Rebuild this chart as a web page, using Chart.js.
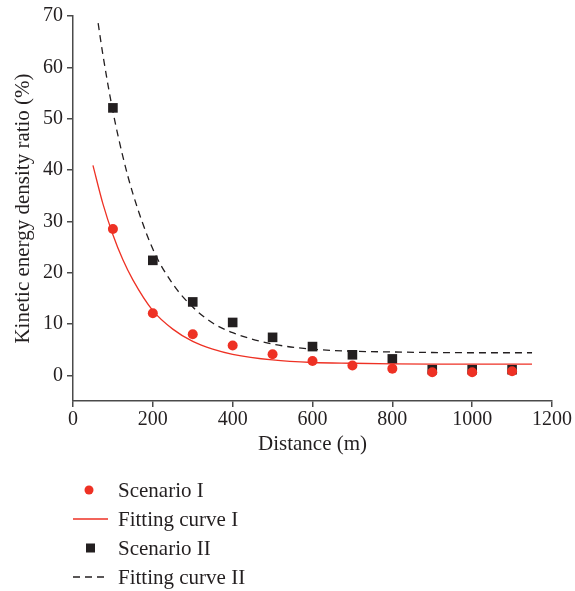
<!DOCTYPE html>
<html>
<head>
<meta charset="utf-8">
<script src="https://cdn.jsdelivr.net/npm/chart.js@4"></script>
<style>
  html, body { margin: 0; padding: 0; background: #ffffff; }
  #wrap { width: 575px; height: 591px; position: relative; }
</style>
</head>
<body>
<div id="wrap"><canvas id="c" width="575" height="591"></canvas></div>
<script>
// ---- data ----
const distances = [100, 200, 300, 400, 500, 600, 700, 800, 900, 1000, 1100];
const scenarioI  = [28.5, 12.1, 8.0, 5.8, 4.1, 2.8, 1.9, 1.3, 0.6, 0.6, 0.8];
const scenarioII = [52.1, 22.4, 14.3, 10.3, 7.4, 5.6, 4.0, 3.2, 1.1, 1.1, 1.1];

const fitIX = [50, 75, 100, 125, 150, 200, 250, 300, 350, 400, 500, 600, 700, 800, 900, 1000, 1150];
const fitIY = [40.9, 33.4, 27.4, 22.5, 18.6, 12.6, 9.0, 6.6, 5.1, 4.1, 3.0, 2.5, 2.35, 2.25, 2.2, 2.2, 2.2];

const fitIIX = [63, 75, 100, 125, 150, 200, 250, 300, 350, 400, 500, 600, 700, 800, 900, 1000, 1150];
const fitIIY = [68.6, 62.4, 51.4, 42.6, 35.4, 24.6, 17.8, 13.3, 10.2, 8.3, 6.1, 5.1, 4.7, 4.55, 4.45, 4.4, 4.4];

const xTicks = [0, 200, 400, 600, 800, 1000, 1200];
const yTicks = [0, 10, 20, 30, 40, 50, 60, 70];

const seriesNames = ['Scenario I', 'Fitting curve I', 'Scenario II', 'Fitting curve II'];
const xTitle = 'Distance (m)';
const yTitle = 'Kinetic energy density ratio (%)';

// ---- styles ----
const RED = '#ee3124';
const BLACK = '#231f20';
const AXIS = '#4a4a4a';
const TEXT = '#231f20';
const FONT = "'Liberation Serif', 'Times New Roman', serif";

const pts = (xs, ys) => xs.map((x, i) => ({ x: x, y: ys[i] }));

const legendPlugin = {
  id: 'customLegend',
  afterDraw(chart) {
    const ctx = chart.ctx;
    const left = 73;
    const rows = [490, 519, 548, 577];
    ctx.save();
    ctx.font = '21px ' + FONT;
    ctx.fillStyle = TEXT;
    ctx.textBaseline = 'middle';
    ctx.textAlign = 'left';
    rows.forEach((y, i) => ctx.fillText(seriesNames[i], 118, y + 1));
    // Scenario I marker
    ctx.fillStyle = RED;
    ctx.beginPath();
    ctx.arc(89, rows[0], 4.5, 0, Math.PI * 2);
    ctx.fill();
    // Fitting curve I
    ctx.strokeStyle = RED;
    ctx.lineWidth = 1.3;
    ctx.beginPath();
    ctx.moveTo(left, rows[1]);
    ctx.lineTo(108, rows[1]);
    ctx.stroke();
    // Scenario II marker
    ctx.fillStyle = BLACK;
    ctx.fillRect(86, rows[2] - 4.5, 9, 9);
    // Fitting curve II
    ctx.strokeStyle = BLACK;
    ctx.setLineDash([7, 5]);
    ctx.beginPath();
    ctx.moveTo(left, rows[3]);
    ctx.lineTo(108, rows[3]);
    ctx.stroke();
    ctx.restore();
  }
};

new Chart(document.getElementById('c'), {
  type: 'scatter',
  data: {
    datasets: [
      {
        label: seriesNames[0],
        data: pts(distances, scenarioI),
        pointStyle: 'circle',
        pointRadius: 5,
        pointHoverRadius: 5,
        backgroundColor: RED,
        borderColor: RED,
        borderWidth: 0,
        showLine: false
      },
      {
        label: seriesNames[1],
        data: pts(fitIX, fitIY),
        showLine: true,
        pointRadius: 0,
        borderColor: RED,
        borderWidth: 1.3,
        cubicInterpolationMode: 'monotone',
        fill: false
      },
      {
        label: seriesNames[2],
        data: pts(distances, scenarioII),
        pointStyle: 'rect',
        pointRadius: 6.8,
        pointHoverRadius: 6.8,
        backgroundColor: BLACK,
        borderColor: BLACK,
        borderWidth: 0,
        showLine: false
      },
      {
        label: seriesNames[3],
        data: pts(fitIIX, fitIIY),
        showLine: true,
        pointRadius: 0,
        borderColor: BLACK,
        borderWidth: 1.3,
        borderDash: [7, 5],
        cubicInterpolationMode: 'monotone',
        fill: false
      }
    ]
  },
  options: {
    responsive: false,
    animation: false,
    events: [],
    layout: { padding: { left: 0, right: 23, top: 16, bottom: 130 } },
    plugins: {
      legend: { display: false },
      tooltip: { enabled: false }
    },
    scales: {
      x: {
        type: 'linear',
        min: 0,
        max: 1200,
        afterBuildTicks: (s) => { s.ticks = xTicks.map(v => ({ value: v })); },
        afterFit: (s) => { s.height = 60; },
        grid: { display: true, drawOnChartArea: false, drawTicks: true, tickLength: 6, color: AXIS, lineWidth: 1.5 },
        border: { display: true, color: AXIS, width: 1.5 },
        ticks: { color: TEXT, font: { family: FONT, size: 20 }, padding: 1, maxRotation: 0, callback: (v) => String(v) },
        title: { display: true, text: xTitle, color: TEXT, font: { family: FONT, size: 21 }, padding: { top: 0, bottom: 4 } }
      },
      y: {
        type: 'linear',
        min: -5,
        max: 70,
        afterBuildTicks: (s) => { s.ticks = yTicks.map(v => ({ value: v })); },
        afterFit: (s) => { s.width = 73; },
        grid: { display: true, drawOnChartArea: false, drawTicks: true, tickLength: 6, color: AXIS, lineWidth: 1.5 },
        border: { display: true, color: AXIS, width: 1.5 },
        ticks: { color: TEXT, font: { family: FONT, size: 20 }, padding: 4, callback: (v) => String(v) },
        title: { display: true, text: yTitle, color: TEXT, font: { family: FONT, size: 21 }, padding: { top: 11, bottom: 0 } }
      }
    }
  },
  plugins: [legendPlugin]
});
</script>
</body>
</html>
